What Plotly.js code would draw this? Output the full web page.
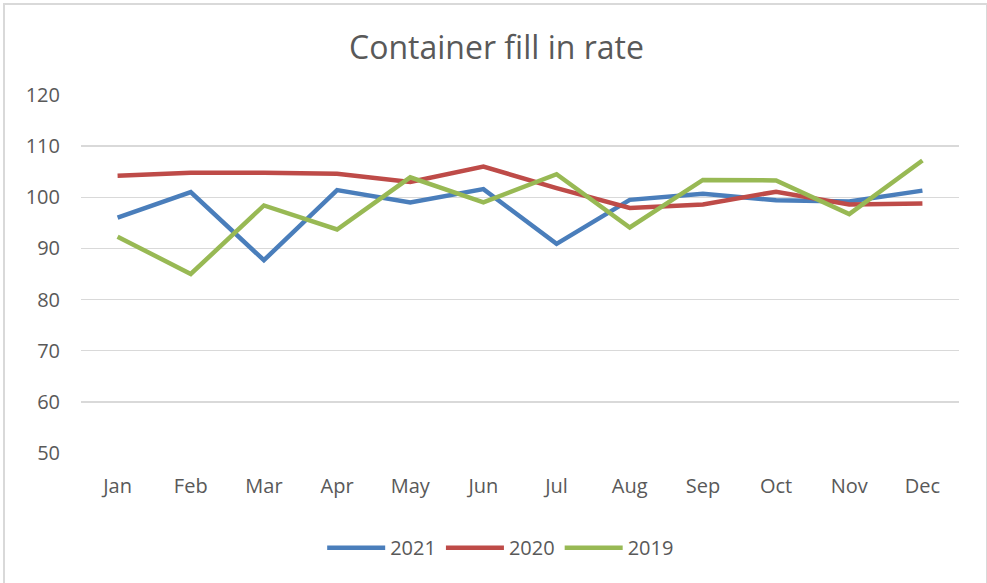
<!DOCTYPE html>
<html>
<head>
<meta charset="utf-8">
<script src="https://cdn.plot.ly/plotly-3.0.1.min.js"></script>
<style>
html,body{margin:0;padding:0;background:#fff;}
#wrap{position:relative;width:987px;height:583px;overflow:hidden;}
#chart{width:987px;height:583px;}
#frame{position:absolute;left:3px;top:3px;width:981px;height:600px;border:2px solid #d9d9d9;pointer-events:none;}
</style>
</head>
<body>
<div id="wrap"><div id="chart"></div><div id="frame"></div></div>
<script>
const months = ["Jan","Feb","Mar","Apr","May","Jun","Jul","Aug","Sep","Oct","Nov","Dec"];
const y2021 = [96.0, 101.0, 87.7, 101.4, 99.0, 101.6, 90.9, 99.5, 100.7, 99.4, 99.2, 101.3];
const y2020 = [104.2, 104.8, 104.8, 104.6, 103.0, 106.0, 101.8, 97.9, 98.6, 101.1, 98.6, 98.8];
const y2019 = [92.3, 85.0, 98.4, 93.7, 103.9, 99.0, 104.5, 94.1, 103.4, 103.3, 96.7, 107.2];
const seriesNames = ["2021", "2020", "2019"];
const colors = ["#4a7ebb", "#be4b48", "#98b954"];

const data = [y2021, y2020, y2019].map((ys, i) => ({
  x: months, y: ys, type: "scatter", mode: "lines", name: seriesNames[i],
  line: {color: colors[i], width: 4.5}
}));

const layout = {
  width: 987, height: 583,
  margin: {l: 81, r: 28, t: 95, b: 130},
  paper_bgcolor: "#ffffff", plot_bgcolor: "#ffffff",
  font: {family: "Open Sans, sans-serif", color: "#595959", size: 20},
  title: {text: "Container fill in rate", x: 0.503, xanchor: "center", y: 0.918, yanchor: "middle",
          font: {family: "Open Sans, sans-serif", size: 32, color: "#595959"}},
  xaxis: {type: "category", range: [-0.5, 11.5], showgrid: false, zeroline: false,
          showline: false, ticks: "", tickfont: {size: 20, color: "#595959"}, ticklabelstandoff: 19},
  yaxis: {range: [50, 120], dtick: 10, tick0: 50, showgrid: true, gridcolor: "#d9d9d9", gridwidth: 1.5,
          zeroline: false, showline: false, ticks: "", tickfont: {size: 20, color: "#595959"}, ticklabelstandoff: 20},
  showlegend: true,
  legend: {orientation: "h", x: 0.478, xanchor: "center", y: -0.21, yanchor: "top",
           font: {size: 20, color: "#595959"}, itemwidth: 58, traceorder: "normal"},
  hovermode: false
};

Plotly.newPlot("chart", data, layout, {displayModeBar: false, staticPlot: true});
</script>
</body>
</html>
